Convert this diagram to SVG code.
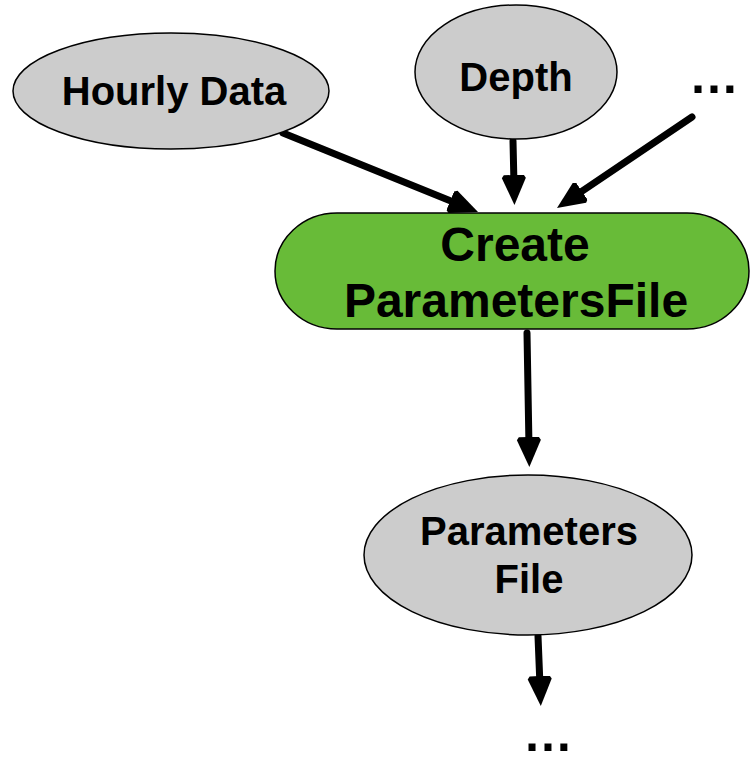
<svg xmlns="http://www.w3.org/2000/svg" width="750" height="757" viewBox="0 0 750 757">
<style>
.n{fill:#cccccc;stroke:#000;stroke-width:1.5}
.g{fill:#68bb38;stroke:#000;stroke-width:1.5}
.t{font-family:"Liberation Sans",Arial,sans-serif;font-weight:bold;fill:#000;text-anchor:middle}
.e{fill:none;stroke:#000;stroke-width:7;stroke-linecap:round}
</style>
<defs>
<marker id="ah" markerUnits="userSpaceOnUse" viewBox="0 -13 31 26" refX="10" refY="0" markerWidth="31" markerHeight="26" orient="auto">
<path d="M0,-10 L3,-12 L30,0 L3,12 L0,10 Z" fill="#000"/>
</marker>
</defs>
<rect width="750" height="757" fill="#fff"/>
<g id="connectors">
<line class="e" x1="283" y1="133" x2="459.5" y2="204.5" marker-end="url(#ah)"/>
<line class="e" x1="513" y1="141" x2="514" y2="185" marker-end="url(#ah)"/>
<line class="e" x1="692" y1="117" x2="573.6" y2="196.8" marker-end="url(#ah)"/>
<line class="e" x1="527" y1="333" x2="529" y2="447" marker-end="url(#ah)"/>
<line class="e" x1="538" y1="636" x2="540" y2="686" marker-end="url(#ah)"/>
</g>
<g id="hourly">
<ellipse class="n" cx="171" cy="91" rx="158" ry="58"/>
<text class="t" x="174" y="105" font-size="40">Hourly Data</text>
</g>
<g id="depth">
<ellipse class="n" cx="516" cy="72" rx="101" ry="67"/>
<text class="t" x="516" y="91" font-size="40">Depth</text>
</g>
<g id="more-inputs">
<text class="t" x="714" y="93" font-size="50">…</text>
</g>
<g id="create">
<rect class="g" x="275" y="213" width="474" height="116" rx="62" ry="58"/>
<text class="t" x="515" y="261" font-size="48">Create</text>
<text class="t" x="516" y="317" font-size="48">ParametersFile</text>
</g>
<g id="params">
<ellipse class="n" cx="528" cy="555" rx="164" ry="80"/>
<text class="t" x="529" y="545" font-size="40">Parameters</text>
<text class="t" x="529" y="593" font-size="40">File</text>
</g>
<g id="more-outputs">
<text class="t" x="548" y="751" font-size="50">…</text>
</g>
</svg>
